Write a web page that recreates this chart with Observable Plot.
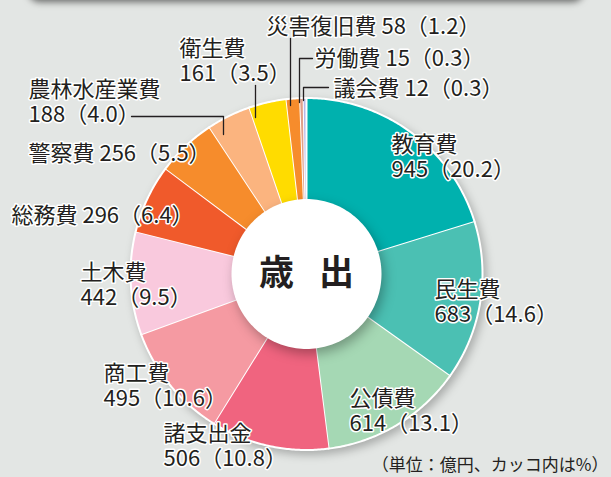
<!DOCTYPE html>
<html>
<head>
<meta charset="utf-8">
<script src="https://cdn.jsdelivr.net/npm/d3@7"></script>
<script src="https://cdn.jsdelivr.net/npm/@observablehq/plot@0.6"></script>
<style>
  html, body { margin: 0; padding: 0; background: #e3e6e4; overflow: hidden; }
  #wrap { position: relative; width: 611px; height: 477px; overflow: hidden; background: #e3e6e4; }
  #topbar { position: absolute; left: 28px; width: 556px; top: -24px; height: 24px;
            background: #6f7372; border-radius: 14px; box-shadow: 0 2px 7px rgba(0,0,0,0.55); }
  #wrap svg { position: absolute; left: 0; top: 0; }
  .slices { filter: drop-shadow(3px 4px 4px rgba(0,0,0,0.25)); }
  .hole { filter: drop-shadow(3px 5px 6px rgba(0,0,0,0.3)); }
</style>
</head>
<body>
<div id="wrap"><div id="topbar"></div></div>
<script>
// ---- data ----
const categories = ["教育費","民生費","公債費","諸支出金","商工費","土木費","総務費","警察費","農林水産業費","衛生費","災害復旧費","労働費","議会費"];
const values     = [945, 683, 614, 506, 495, 442, 296, 256, 188, 161, 58, 15, 12];
const percents   = ["20.2","14.6","13.1","10.8","10.6","9.5","6.4","5.5","4.0","3.5","1.2","0.3","0.3"];
const colors     = ["#00b1ae","#4bc0b3","#a5d8b4","#f0647f","#f59aa2","#f9c9dd","#f05a2b","#f68c2c","#fbb47f","#ffdc00","#f68c2c","#e0a08a","#b8b8e8"];
const centerTitle = ["歳","出"];
const unitNote = "（単位：億円、カッコ内は%）";

// ---- layout (pixels in the 611x477 frame) ----
const CX = 306, CY = 273.5, R = 176;       // donut centre and outer radius
const INNER = 75 / 176;                     // hole radius relative to outer
const P = ([px, py]) => [(px - CX) / R, (CY - py) / R];
// label anchors: [left x, block middle y, twoLines]
const labelLayout = [
  [391, 155.5, true], [434, 300.5, true], [349, 409.5, true], [163, 444.5, true],
  [103, 384.5, true], [80, 283.5, true], [11, 214, false], [28, 152, false],
  [28, 100.5, true], [179, 60, true], [266, 25, false], [314, 57, false], [333, 87, false]
];
const leaderLayout = [
  {k: 8,  pts: [[131,116],[223,116],[223,134]]},
  {k: 9,  pts: [[255,85],[255,117]]},
  {k: 10, pts: [[290,38],[290,105]]},
  {k: 11, pts: [[312,58],[299,58],[299,102]]},
  {k: 12, pts: [[328,87],[303,87],[303,100]]}
];
const titleLayout = [[276, 273.5], [336, 273.5]];

// ---- slice polygons from the values ----
const arcs = d3.pie().sort(null).startAngle(0).endAngle(2 * Math.PI)(values);
const slicePts = [];
arcs.forEach((a, i) => {
  const n = Math.max(4, Math.ceil((a.endAngle - a.startAngle) / 0.01));
  for (let j = 0; j <= n; j++) {
    const t = a.startAngle + (a.endAngle - a.startAngle) * j / n;
    slicePts.push({name: categories[i], x: Math.sin(t), y: Math.cos(t)});
  }
  for (let j = n; j >= 0; j--) {
    const t = a.startAngle + (a.endAngle - a.startAngle) * j / n;
    slicePts.push({name: categories[i], x: 0.3 * Math.sin(t), y: 0.3 * Math.cos(t)});
  }
});
const holePts = d3.range(0, 361, 2).map(d => {
  const t = d * Math.PI / 180;
  return {x: INNER * Math.sin(t), y: INNER * Math.cos(t)};
});

const labels = categories.map((c, i) => {
  const [px, py, two] = labelLayout[i];
  const [x, y] = P([px, py]);
  const num = `${values[i]}（${percents[i]}）`;
  return {x, y, text: two ? `${c}\n${num}` : `${c} ${num}`};
});
const leaders = leaderLayout.flatMap(({k, pts}) => pts.map(p => {
  const [x, y] = P(p);
  return {k, x, y};
}));
const titles = centerTitle.map((t, i) => {
  const [x, y] = P(titleLayout[i]);
  return {t, x, y};
});

const FONT = "'Noto Sans CJK JP', 'Noto Sans', sans-serif";
const chart = Plot.plot({
  width: 611, height: 477,
  margin: 0,
  style: {background: "transparent", fontFamily: FONT},
  x: {domain: [-1, 1], range: [CX - R, CX + R], axis: null},
  y: {domain: [-1, 1], range: [CY + R, CY - R], axis: null},
  color: {domain: categories, range: colors},
  marks: [
    Plot.line(slicePts, {x: "x", y: "y", z: "name", fill: "name", stroke: "white", strokeWidth: 2, strokeLinejoin: "round", className: "slices"}),
    Plot.line(holePts, {x: "x", y: "y", fill: "white", stroke: "none", className: "hole"}),
    Plot.line(leaders, {x: "x", y: "y", z: "k", stroke: "#231f20", strokeWidth: 1.3}),
    Plot.text(labels, {x: "x", y: "y", text: "text", textAnchor: "start", lineAnchor: "middle", lineHeight: 1.14,
      fontSize: 22, fontWeight: 400, fill: "#231f20", stroke: "white", strokeWidth: 3, strokeLinejoin: "round"}),
    Plot.text(titles, {x: "x", y: "y", text: "t", fontSize: 35, fontWeight: "bold", fill: "#231f20"}),
    Plot.text([unitNote], {frameAnchor: "bottom-right", dx: -3, dy: -12, lineAnchor: "middle", fontSize: 17, fill: "#231f20", textAnchor: "end"})
  ]
});
document.getElementById("wrap").appendChild(chart);
</script>
</body>
</html>
